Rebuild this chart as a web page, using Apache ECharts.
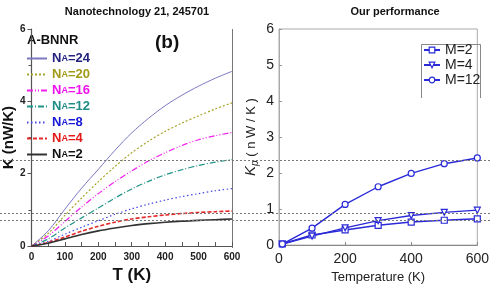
<!DOCTYPE html>
<html>
<head>
<meta charset="utf-8">
<script src="https://cdn.jsdelivr.net/npm/echarts@6/dist/echarts.min.js"></script>
<style>
html,body{margin:0;padding:0;background:#fff;}
#c{width:492px;height:289px;}
</style>
</head>
<body>
<div id="c"></div>
<script>
// Left panel (reference paper)
var tempsLeft = [0, 50, 100, 150, 200, 250, 300, 350, 400, 450, 500, 550, 600];
var na24 = [0, 0.42, 1.02, 1.6, 2.12, 2.65, 3.13, 3.53, 3.88, 4.17, 4.42, 4.64, 4.83];
var na20 = [0, 0.35, 0.85, 1.33, 1.78, 2.2, 2.58, 2.9, 3.17, 3.4, 3.6, 3.79, 3.96];
var na16 = [0, 0.28, 0.68, 1.08, 1.45, 1.78, 2.08, 2.35, 2.58, 2.78, 2.94, 3.05, 3.14];
var na12 = [0, 0.2, 0.5, 0.78, 1.05, 1.33, 1.58, 1.79, 1.97, 2.11, 2.23, 2.32, 2.39];
var na8  = [0, 0.13, 0.33, 0.52, 0.7, 0.88, 1.03, 1.16, 1.27, 1.37, 1.45, 1.53, 1.59];
var na4  = [0, 0.1, 0.25, 0.41, 0.55, 0.66, 0.75, 0.81, 0.86, 0.9, 0.93, 0.95, 0.97];
var na2  = [0, 0.08, 0.2, 0.32, 0.42, 0.5, 0.57, 0.62, 0.66, 0.69, 0.71, 0.73, 0.75];
var leftNames = ['NA=24', 'NA=20', 'NA=16', 'NA=12', 'NA=8', 'NA=4', 'NA=2'];

// Right panel (our performance)
var tempsRight = [10, 100, 200, 300, 400, 500, 600];
var m2  = [0.03, 0.28, 0.42, 0.55, 0.64, 0.69, 0.73];
var m4  = [0.03, 0.25, 0.48, 0.68, 0.82, 0.91, 0.97];
var m12 = [0.03, 0.47, 1.13, 1.62, 1.99, 2.26, 2.42];
var rightNames = ['M=2', 'M=4', 'M=12'];

// Horizontal reference lines
var refLines = [2.41, 0.96, 0.77];

function pairs(xs, ys) { return xs.map(function (x, i) { return [x, ys[i]]; }); }

var leftDefs = [
  {d: na24, c: '#7a78c0', t: 'solid', w: 1, tc: '#23237e'},
  {d: na20, c: '#a7a52a', t: [2, 2], w: 1.2, tc: '#a09a18'},
  {d: na16, c: '#f020f0', t: [6, 2, 1, 2, 1, 2], w: 1.2, tc: '#ee10ee'},
  {d: na12, c: '#239488', t: [6, 2, 1, 2], w: 1.2, tc: '#1f8c86'},
  {d: na8,  c: '#4646e6', t: [1.5, 2.5], w: 1.2, tc: '#1818d8'},
  {d: na4,  c: '#e42a2a', t: [4, 2], w: 1.6, tc: '#e41818'},
  {d: na2,  c: '#333333', t: 'solid', w: 1.6, tc: '#111111'}
];

var series = [];
leftDefs.forEach(function (s, i) {
  series.push({
    name: leftNames[i], type: 'line', xAxisIndex: 0, yAxisIndex: 0,
    data: pairs(tempsLeft, s.d), smooth: 0.3, symbol: 'none',
    lineStyle: {color: s.c, type: s.t, width: s.w}, itemStyle: {color: s.c},
    z: 3
  });
});
var blue = '#2a2ad8';
var rightDefs = [{d: m2, s: 'rect'}, {d: m4, s: 'triangle', r: 180}, {d: m12, s: 'circle'}];
rightDefs.forEach(function (s, i) {
  series.push({
    name: rightNames[i], type: 'line', xAxisIndex: 1, yAxisIndex: 1,
    data: pairs(tempsRight, s.d), symbol: s.s, symbolRotate: s.r || 0, symbolSize: 6,
    showAllSymbol: true,
    lineStyle: {color: blue, width: 1.4},
    itemStyle: {color: '#fff', borderColor: blue, borderWidth: 1.2},
    z: 3
  });
});
series.push({
  type: 'line', xAxisIndex: 2, yAxisIndex: 2, data: [], silent: true,
  markLine: {
    silent: true, symbol: 'none', label: {show: false}, animation: false,
    lineStyle: {color: '#777', type: [2, 2], width: 1},
    data: refLines.map(function (v) { return {yAxis: v}; })
  },
  z: 10
});

var chart = echarts.init(document.getElementById('c'), null, {renderer: 'canvas'});
var bold = 'bold';
chart.setOption({
  animation: false,
  backgroundColor: '#fff',
  title: [
    {text: 'Nanotechnology 21, 245701', left: 132, top: 1, textAlign: 'center',
     textStyle: {fontFamily: 'Liberation Sans', fontSize: 11, fontWeight: 'bold', color: '#111'}},
    {text: 'Our performance', left: 390, top: 1, textAlign: 'center',
     textStyle: {fontFamily: 'Liberation Sans', fontSize: 11, fontWeight: 'bold', color: '#111'}}
  ],
  grid: [
    {left: 25, right: 260, top: 29, bottom: 41},
    {left: 279, right: 9, top: 29, bottom: 41, show: true, borderColor: '#aaa', borderWidth: 1, backgroundColor: 'transparent'},
    {left: 0, right: 0, top: 29, bottom: 41}
  ],
  xAxis: [
    {gridIndex: 0, type: 'value', min: 0, max: 600, interval: 100,
     name: 'T (K)', nameLocation: 'middle', nameGap: 19,
     nameTextStyle: {fontFamily: 'Liberation Sans', fontSize: 17, fontWeight: bold, color: '#111'},
     axisLine: {lineStyle: {color: '#555', width: 1.2}},
     axisTick: {inside: true, length: 4, lineStyle: {color: '#555'}},
     minorTick: {show: true, splitNumber: 2, length: 4, lineStyle: {color: '#555'}},
     axisLabel: {fontFamily: 'Liberation Sans', fontSize: 10, fontWeight: bold, color: '#222', margin: 6},
     splitLine: {show: false}},
    {gridIndex: 1, type: 'value', min: 0, max: 600, interval: 200,
     name: 'Temperature (K)', nameLocation: 'middle', nameGap: 23,
     nameTextStyle: {fontFamily: 'Liberation Sans', fontSize: 13, color: '#222'},
     axisLine: {lineStyle: {color: '#888'}},
     axisTick: {inside: true, length: 3, lineStyle: {color: '#888'}},
     axisLabel: {fontFamily: 'Liberation Sans', fontSize: 14, color: '#222', margin: 7},
     splitLine: {show: false}},
    {gridIndex: 2, type: 'value', min: 0, max: 1, show: false}
  ],
  yAxis: [
    {gridIndex: 0, type: 'value', min: 0, max: 6, interval: 2,
     name: 'K (nW/K)', nameLocation: 'middle', nameGap: 13,
     nameTextStyle: {fontFamily: 'Liberation Sans', fontSize: 15, fontWeight: bold, color: '#111'},
     axisLine: {show: true, lineStyle: {color: '#555', width: 1.2}},
     axisTick: {show: true, length: 4, lineStyle: {color: '#555'}},
     minorTick: {show: true, splitNumber: 2, length: 3, lineStyle: {color: '#555'}},
     axisLabel: {fontFamily: 'Liberation Sans', fontSize: 10, fontWeight: bold, color: '#222', margin: 6},
     splitLine: {show: false}},
    {gridIndex: 1, type: 'value', min: 0, max: 6, interval: 1,
     name: '{k|K}{p|p}{t| ( n W / K )}', nameLocation: 'middle', nameGap: 19,
     nameTextStyle: {fontFamily: 'Liberation Sans', color: '#222',
       rich: {k: {fontSize: 15, fontFamily: 'Liberation Sans', fontStyle: 'italic', color: '#222'},
              p: {fontSize: 10, fontFamily: 'Liberation Sans', fontStyle: 'italic', color: '#222', padding: [8, 0, 0, 0]},
              t: {fontSize: 13, fontFamily: 'Liberation Sans', color: '#222'}}},
     axisLine: {show: true, lineStyle: {color: '#aaa'}},
     axisTick: {show: true, inside: true, length: 3, lineStyle: {color: '#999'}},
     axisLabel: {fontFamily: 'Liberation Sans', fontSize: 14, color: '#222', margin: 5},
     splitLine: {show: false}},
    {gridIndex: 2, type: 'value', min: 0, max: 6, show: false}
  ],
  legend: [
    {id: 'legLeft',
     data: leftNames.map(function (n, i) { return {name: n, textStyle: {color: leftDefs[i].tc}}; }),
     orient: 'vertical', left: 26, top: 52, itemWidth: 20, itemHeight: 10, itemGap: 3,
     padding: 0,
     itemStyle: {opacity: 0},
     formatter: function (n) { return '{n|N}{a|A}{n|' + n.slice(2) + '}'; },
     textStyle: {fontFamily: 'Liberation Sans', fontWeight: bold, fontSize: 13,
       rich: {n: {fontSize: 13, fontWeight: bold, fontFamily: 'Liberation Sans', lineHeight: 14},
              a: {fontSize: 9, fontWeight: bold, fontFamily: 'Liberation Sans', lineHeight: 14}}}},
    {id: 'legRight',
     data: rightNames, orient: 'vertical', left: 421, top: 43, itemWidth: 16, itemHeight: 7, itemGap: 1,
     padding: [0, 2, 0, 2],
     itemStyle: {color: '#fff', borderColor: blue, borderWidth: 1.2},
     textStyle: {fontFamily: 'Liberation Sans', fontSize: 14, color: '#222', lineHeight: 14}}
  ],
  graphic: [
    {type: 'text', left: 27, top: 34, style: {text: 'A-BNNR', font: 'bold 13px "Liberation Sans"', fill: '#111'}},
    {type: 'text', left: 155, top: 33, style: {text: '(b)', font: 'bold 19px "Liberation Sans"', fill: '#111'}},
    {type: 'line', shape: {x1: 232.5, y1: 29, x2: 232.5, y2: 248}, style: {stroke: '#777', lineWidth: 1}},
    {type: 'polyline', shape: {points: [[421.5, 98], [421.5, 44.5], [480.5, 44.5], [480.5, 98]]},
     style: {stroke: '#888', lineWidth: 1, fill: 'none'}}
  ],
  series: series
});
</script>
</body>
</html>
